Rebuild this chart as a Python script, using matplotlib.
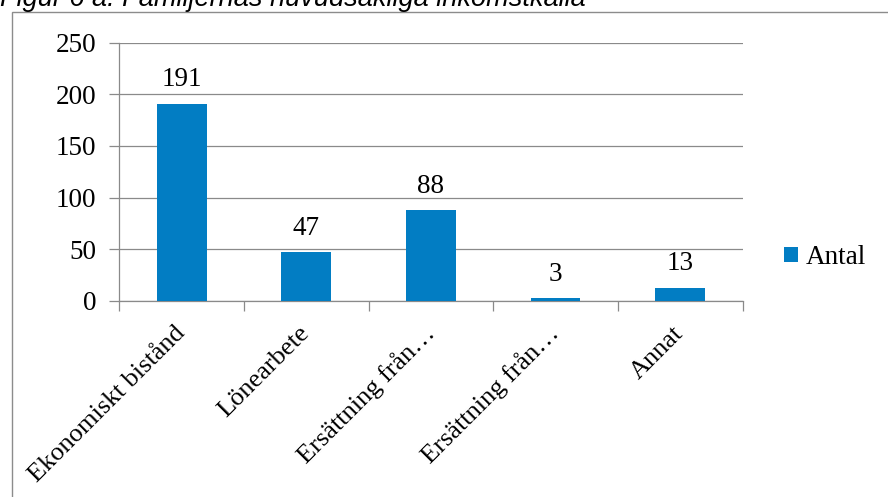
import matplotlib
matplotlib.use("Agg")
import matplotlib.pyplot as plt
from matplotlib.patches import Rectangle
import numpy as np

categories = ["Ekonomiskt bistånd", "Lönearbete", "Ersättning från…", "Ersättning från…", "Annat"]
values = [191, 47, 88, 3, 13]
series_name = "Antal"
yticks = [0, 50, 100, 150, 200, 250]
title = "Figur 6 a. Familjernas huvudsakliga inkomstkälla"

W, H = 888, 497
fig = plt.figure(figsize=(W / 100, H / 100), dpi=100)

serif = ["Liberation Serif", "DejaVu Serif"]
bar_color = "#027DC3"
grid_color = "#8A8A8A"
fs = 19.5

# outer chart frame (clipped at right/bottom like the reference)
fig.patches.append(Rectangle((12 / W, -0.1), 1.2, (H - 12) / H + 0.1,
                             transform=fig.transFigure, fill=False,
                             edgecolor="#8C8C8C", linewidth=1.0))

# title, partially cut off at the top
fig.text(0 / W, 1 - 6 / H, title, family=["Liberation Sans", "DejaVu Sans"],
         style="italic", fontsize=19.5, ha="left", va="baseline")

ax = fig.add_axes([119.3 / W, 1 - 301 / H, (742.5 - 119.3) / W, (301 - 42.5) / H])
x = np.arange(len(categories))
bars = ax.bar(x, values, width=0.4, color=bar_color, zorder=3, label=series_name)

ax.set_xlim(-0.5, len(categories) - 0.5)
ax.set_ylim(0, 250)
ax.set_yticks(yticks)
ax.set_yticklabels([str(t) for t in yticks], family=serif, fontsize=fs)
ax.yaxis.grid(True, color=grid_color, linewidth=0.9, zorder=0)
ax.tick_params(axis="y", length=7, width=0.9, color=grid_color, pad=9.5, direction="out")

ax.set_xticks(x)
ax.set_xticklabels(categories, family=serif, fontsize=19, rotation=45,
                   ha="right", va="center", rotation_mode="anchor")
ax.tick_params(axis="x", which="major", length=0, pad=21)
ax.set_xticks(np.arange(-0.5, len(categories), 1.0), minor=True)
ax.tick_params(axis="x", which="minor", length=7, width=0.9, color=grid_color, direction="out")

for s in ["top", "right"]:
    ax.spines[s].set_visible(False)
for s in ["left", "bottom"]:
    ax.spines[s].set_color(grid_color)
    ax.spines[s].set_linewidth(0.9)

for xi, v in zip(x, values):
    ax.annotate(str(v), (xi, v), xytext=(0, 8), textcoords="offset points",
                ha="center", va="bottom", family=serif, fontsize=fs)

fig.legend(handles=[bars], labels=[series_name], loc="center left",
           bbox_to_anchor=(784 / W, 1 - 257.5 / H), frameon=False,
           prop={"family": serif, "size": fs}, handlelength=0.52, handleheight=0.52,
           handletextpad=0.3, borderpad=0, borderaxespad=0)

fig.savefig("out.png", dpi=100)
